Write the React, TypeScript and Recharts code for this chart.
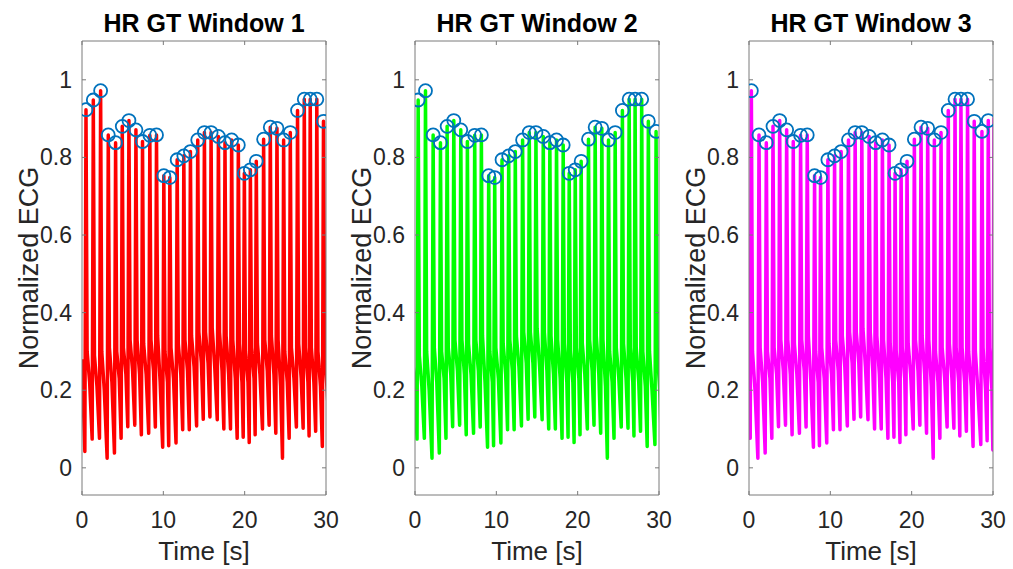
import React from 'react';
import { ComposedChart, Line, Scatter, XAxis, YAxis, Label } from 'recharts';

// beat (R peak) times in seconds, on the time base of window 1
const beatTimes = [
  0.49, 1.39, 2.29, 3.23, 4.13, 4.95, 5.77, 6.63, 7.44, 8.34,
  9.16, 10.06, 10.8, 11.7, 12.52, 13.33, 14.23, 15.05, 15.87, 16.77,
  17.58, 18.4, 19.22, 19.96, 20.7, 21.43, 22.33, 23.15, 23.97, 24.79,
  25.61, 26.5, 27.33, 28.06, 28.87, 29.69, 30.64, 31.42, 32.12,
];
const peakValues = [
  0.923, 0.948, 0.972, 0.858, 0.838, 0.88, 0.895, 0.871, 0.841, 0.857,
  0.858, 0.753, 0.748, 0.794, 0.804, 0.815, 0.845, 0.864, 0.864, 0.854,
  0.838, 0.845, 0.832, 0.759, 0.768, 0.79, 0.847, 0.878, 0.875, 0.845,
  0.864, 0.921, 0.95, 0.95, 0.95, 0.893, 0.867, 0.895, 0.9,
];
// minimum just before each R peak
const troughValues = [
  0.042, 0.074, 0.076, 0.025, 0.038, 0.076, 0.106, 0.11, 0.085, 0.089,
  0.105, 0.053, 0.057, 0.064, 0.098, 0.098, 0.108, 0.125, 0.131, 0.124,
  0.1, 0.1, 0.076, 0.079, 0.065, 0.085, 0.1, 0.11, 0.089, 0.025,
  0.076, 0.105, 0.102, 0.082, 0.094, 0.055, 0.06, 0.07, 0.046,
];
// level right after the R spike falls back
const waveValues = [
  0.3, 0.29, 0.3, 0.31, 0.3, 0.31, 0.33, 0.33, 0.32, 0.33,
  0.34, 0.3, 0.31, 0.32, 0.33, 0.34, 0.35, 0.35, 0.36, 0.35,
  0.34, 0.33, 0.32, 0.3, 0.31, 0.32, 0.33, 0.34, 0.33, 0.3,
  0.31, 0.32, 0.31, 0.31, 0.3, 0.3, 0.31, 0.31, 0.3,
];
// level late in each beat, before the drop into the next trough
const lateValues = [
  0.22, 0.21, 0.2, 0.22, 0.23, 0.24, 0.25, 0.24, 0.24, 0.25,
  0.22, 0.22, 0.23, 0.24, 0.25, 0.26, 0.27, 0.27, 0.26, 0.25,
  0.24, 0.23, 0.22, 0.22, 0.23, 0.24, 0.25, 0.24, 0.21, 0.22,
  0.23, 0.23, 0.22, 0.22, 0.21, 0.2, 0.2, 0.2, 0.2,
];
const signalStart = { t: 0, v: 0.28 };

const windowStarts = [0, 1, 2];
const windowTitles = ['HR GT Window 1', 'HR GT Window 2', 'HR GT Window 3'];
const lineColors = ['#ff0000', '#00ff00', '#ff00ff'];
const xTicks = [0, 10, 20, 30];
const yTicks = [0, 0.2, 0.4, 0.6, 0.8, 1];

const AXIS = '#7a7a7a';
const TEXT = '#262626';
const FONT = '"Liberation Sans", Arial, sans-serif';

const signal: { t: number; v: number }[] = [signalStart];
beatTimes.forEach((t, i) => {
  signal.push({ t: t - 0.14, v: troughValues[i] });
  signal.push({ t, v: peakValues[i] });
  signal.push({ t: t + 0.14, v: waveValues[i] });
  signal.push({ t: t + 0.45, v: lateValues[i] });
});

const BottomTick = ({ x, y, payload }: any) => (
  <g>
    <line x1={x} y1={y} x2={x} y2={y - 4} stroke={AXIS} />
    <text x={x} y={y + 33} textAnchor="middle" fontSize={23} fill={TEXT} fontFamily={FONT}>
      {payload.value}
    </text>
  </g>
);
const TopTick = ({ x, y }: any) => <line x1={x} y1={y} x2={x} y2={y + 4} stroke={AXIS} />;
const LeftTick = ({ x, y, payload }: any) => (
  <g>
    <line x1={x} y1={y} x2={x + 4} y2={y} stroke={AXIS} />
    <text x={x - 10} y={y + 8} textAnchor="end" fontSize={23} fill={TEXT} fontFamily={FONT}>
      {payload.value}
    </text>
  </g>
);
const RightTick = ({ x, y }: any) => <line x1={x} y1={y} x2={x - 4} y2={y} stroke={AXIS} />;

const Ring = ({ cx, cy }: any) => (
  <circle cx={cx} cy={cy} r={6.5} fill="none" stroke="#0072BD" strokeWidth={1.8} />
);

function Panel({ index }: { index: number }) {
  const start = windowStarts[index];
  const data = signal
    .map((p) => ({ t: +(p.t - start).toFixed(3), v: p.v }))
    .filter((p) => p.t > -1 && p.t < 31);
  const peaks = beatTimes
    .map((t, i) => ({ t: +(t - start).toFixed(3), v: peakValues[i] }))
    .filter((p) => p.t >= 0 && p.t <= 30);

  return (
    <ComposedChart
      width={340}
      height={569}
      data={data}
      margin={{ top: 40, right: 13, bottom: 0, left: 0 }}
    >
      <XAxis
        dataKey="t"
        type="number"
        domain={[0, 30]}
        ticks={xTicks}
        allowDataOverflow
        height={74}
        tickSize={0}
        tickMargin={0}
        tickLine={false}
        tick={<BottomTick />}
        axisLine={{ stroke: AXIS }}
      >
        <Label
          content={({ viewBox }: any) => (
            <text
              x={viewBox.x + viewBox.width / 2}
              y={viewBox.y + 65}
              textAnchor="middle"
              fontSize={26}
              fill={TEXT}
              fontFamily={FONT}
            >
              Time [s]
            </text>
          )}
        />
      </XAxis>
      <XAxis
        xAxisId="top"
        dataKey="t"
        orientation="top"
        type="number"
        domain={[0, 30]}
        ticks={xTicks}
        allowDataOverflow
        height={1}
        tickSize={0}
        tickMargin={0}
        tickLine={false}
        tick={<TopTick />}
        axisLine={{ stroke: AXIS }}
      >
        <Label
          content={({ viewBox }: any) => (
            <text
              x={viewBox.x + viewBox.width / 2}
              y={32}
              textAnchor="middle"
              fontSize={25}
              fontWeight="bold"
              fill="#000"
              fontFamily={FONT}
            >
              {windowTitles[index]}
            </text>
          )}
        />
      </XAxis>
      <YAxis
        type="number"
        domain={[-0.07, 1.1]}
        ticks={yTicks}
        allowDataOverflow
        width={82}
        tickSize={0}
        tickMargin={0}
        tickLine={false}
        tick={<LeftTick />}
        axisLine={{ stroke: AXIS }}
      >
        <Label
          content={({ viewBox }: any) => {
            const x = viewBox.x + viewBox.width - 44;
            const y = viewBox.y + viewBox.height / 2;
            return (
              <text
                x={x}
                y={y}
                transform={`rotate(-90, ${x}, ${y})`}
                textAnchor="middle"
                fontSize={27}
                fill={TEXT}
                fontFamily={FONT}
              >
                Normalized ECG
              </text>
            );
          }}
        />
      </YAxis>
      <YAxis
        yAxisId="right"
        orientation="right"
        type="number"
        domain={[-0.07, 1.1]}
        ticks={yTicks}
        allowDataOverflow
        width={1}
        tickSize={0}
        tickMargin={0}
        tickLine={false}
        tick={<RightTick />}
        axisLine={{ stroke: AXIS }}
      />
      {/* invisible series so the top and right box axes get drawn */}
      <Line
        xAxisId="top"
        yAxisId="right"
        dataKey="v"
        stroke="none"
        dot={false}
        activeDot={false}
        isAnimationActive={false}
      />
      <Line
        dataKey="v"
        type="linear"
        stroke={lineColors[index]}
        strokeWidth={3.5}
        strokeLinejoin="round"
        dot={false}
        isAnimationActive={false}
      />
      <Scatter data={peaks} dataKey="v" shape={<Ring />} isAnimationActive={false} />
    </ComposedChart>
  );
}

export default function App() {
  const lefts = [0, 333, 667];
  return (
    <div style={{ position: 'absolute', left: 0, top: 0, width: 1013, height: 569, background: '#fff' }}>
      {lefts.map((l, i) => (
        <div key={i} style={{ position: 'absolute', left: l, top: 0 }}>
          <Panel index={i} />
        </div>
      ))}
    </div>
  );
}
